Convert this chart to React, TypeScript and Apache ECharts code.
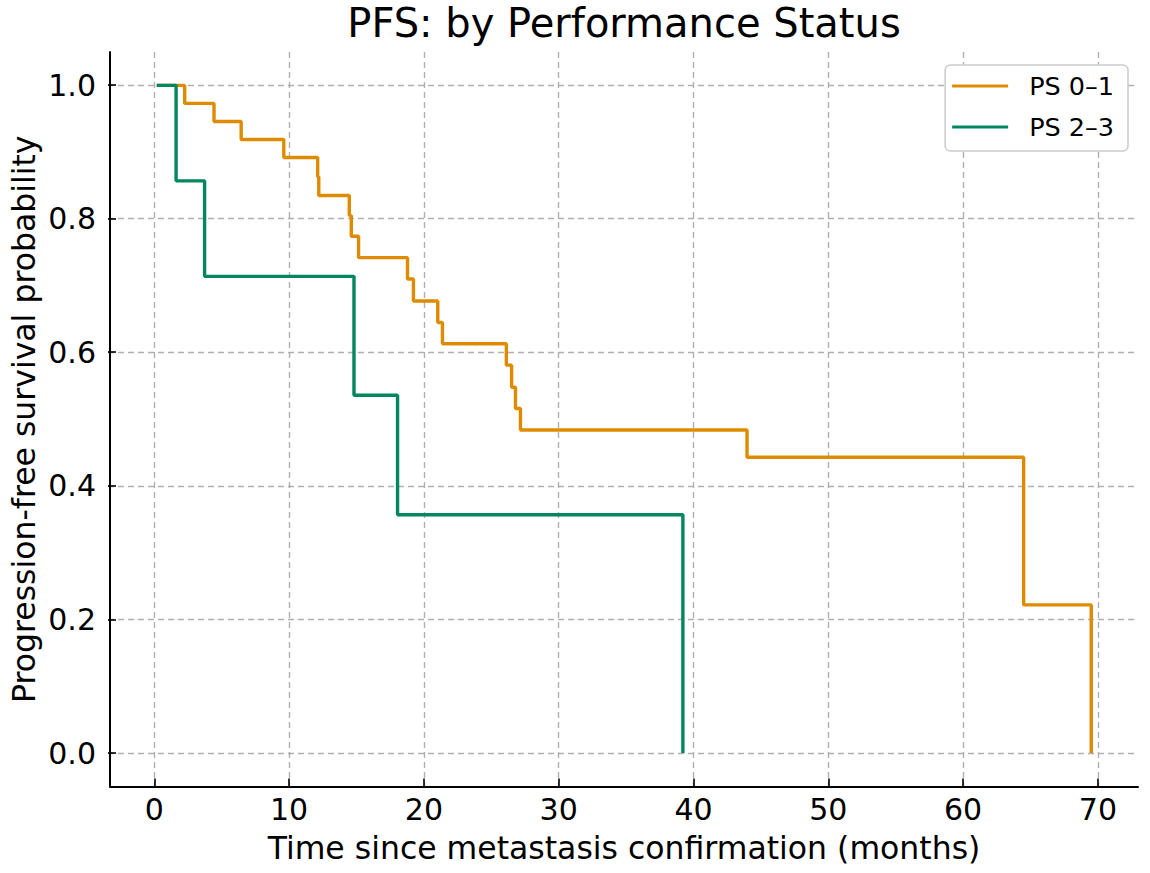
import React, { useEffect, useRef } from "react";
import * as echarts from "echarts";

const titleText = "PFS: by Performance Status";
const xAxisTitle = "Time since metastasis confirmation (months)";
const yAxisTitle = "Progression-free survival probability";

const seriesNames = ["PS 0–1", "PS 2–3"];
const seriesColors = ["#DF8B00", "#00875E"];

// PS 0–1: Kaplan–Meier step points (time in months, survival)
const timesA = [0, 2.08, 4.26, 6.28, 9.45, 11.97, 12.05, 14.32, 14.47, 15.01, 18.65, 19.09, 20.9, 21.25, 26.0, 26.39, 26.68, 27.05, 43.9, 64.47, 69.5];
const survA = [1.0, 0.973, 0.946, 0.919, 0.892, 0.863, 0.835, 0.805, 0.774, 0.742, 0.71, 0.677, 0.645, 0.613, 0.581, 0.548, 0.516, 0.484, 0.443, 0.222, 0.0];

// PS 2–3
const timesB = [0, 1.44, 3.56, 14.67, 17.91, 39.13];
const survB = [1.0, 0.857, 0.714, 0.536, 0.357, 0.0];

const xTickMin = 0;
const xTickMax = 70;
const xTickStep = 10;
const yTickMin = 0;
const yTickMax = 1;
const yTickStep = 0.2;

const FONT = "DejaVu Sans";

export default function App() {
  const ref = useRef<HTMLDivElement>(null);

  useEffect(() => {
    if (!ref.current) return;
    const chart = echarts.init(ref.current, undefined, { renderer: "svg" });

    const toPairs = (t: number[], s: number[]) => t.map((v, i) => [v, s[i]]);
    const gridLine = { show: true, lineStyle: { color: "#b0b0b0", type: [6, 4] as any, width: 1.4 } };

    const option: any = {
      animation: false,
      backgroundColor: "#ffffff",
      title: {
        text: titleText,
        left: 624,
        textAlign: "center",
        top: 0,
        padding: 0,
        textStyle: { fontFamily: FONT, fontSize: 40, lineHeight: 46, fontWeight: "normal", color: "#000" },
      },
      legend: {
        data: seriesNames,
        orient: "vertical",
        right: 22,
        top: 65,
        icon: "rect",
        itemWidth: 56,
        itemHeight: 3,
        itemGap: 11,
        padding: [6, 14, 9, 7],
        borderColor: "#cccccc",
        borderWidth: 1.5,
        borderRadius: 5,
        backgroundColor: "#ffffff",
        textStyle: { fontFamily: FONT, fontSize: 25.5, color: "#000", lineHeight: 30, padding: [0, 0, 0, 16] },
      },
      grid: [
        { left: 108, right: 12, top: 52, bottom: 86.5 },
        { left: 154.3, right: 52.1, top: 52, bottom: 86.5 },
        { left: 108, right: 12, top: 85, bottom: 120 },
      ],
      xAxis: [
        {
          gridIndex: 0,
          type: "value",
          min: -3.475,
          max: 72.975,
          axisLine: { show: true, onZero: false, lineStyle: { color: "#000", width: 2 } },
          axisTick: { show: false },
          axisLabel: { show: false },
          splitLine: { show: false },
          name: xAxisTitle,
          nameLocation: "middle",
          nameGap: 45,
          nameTextStyle: { fontFamily: FONT, fontSize: 31.5, color: "#000" },
        },
        {
          gridIndex: 1,
          type: "value",
          min: xTickMin,
          max: xTickMax,
          interval: xTickStep,
          axisLine: { show: false, onZero: false },
          axisTick: { show: true, inside: true, length: 8, lineStyle: { color: "#000", width: 1.6 } },
          axisLabel: { show: true, fontFamily: FONT, fontSize: 30, color: "#000", margin: 8 },
          splitLine: gridLine,
        },
        { gridIndex: 2, type: "value", min: 0, max: 1, show: false },
      ],
      yAxis: [
        {
          gridIndex: 0,
          type: "value",
          min: -0.05,
          max: 1.05,
          axisLine: { show: true, onZero: false, lineStyle: { color: "#000", width: 2 } },
          axisTick: { show: false },
          axisLabel: { show: false },
          splitLine: { show: false },
          name: yAxisTitle,
          nameLocation: "middle",
          nameGap: 70,
          nameRotate: 90,
          nameTextStyle: { fontFamily: FONT, fontSize: 31.5, color: "#000" },
        },
        { gridIndex: 1, type: "value", min: 0, max: 1, show: false },
        {
          gridIndex: 2,
          type: "value",
          min: yTickMin,
          max: yTickMax,
          interval: yTickStep,
          axisLine: { show: false, onZero: false },
          axisTick: { show: true, inside: true, length: 8, lineStyle: { color: "#000", width: 1.6 } },
          axisLabel: {
            show: true,
            fontFamily: FONT,
            fontSize: 30,
            color: "#000",
            margin: 12,
            formatter: (v: number) => v.toFixed(1),
          },
          splitLine: gridLine,
        },
      ],
      series: [
        {
          name: seriesNames[0],
          type: "line",
          xAxisIndex: 0,
          yAxisIndex: 0,
          step: "end",
          symbol: "none",
          showSymbol: false,
          lineStyle: { color: seriesColors[0], width: 3.4 },
          itemStyle: { color: seriesColors[0] },
          data: toPairs(timesA, survA),
          z: 3,
        },
        {
          name: seriesNames[1],
          type: "line",
          xAxisIndex: 0,
          yAxisIndex: 0,
          step: "end",
          symbol: "none",
          showSymbol: false,
          lineStyle: { color: seriesColors[1], width: 3.4 },
          itemStyle: { color: seriesColors[1] },
          data: toPairs(timesB, survB),
          z: 4,
        },
      ],
    };

    chart.setOption(option);
    return () => chart.dispose();
  }, []);

  return (
    <div
      ref={ref}
      style={{ position: "absolute", left: 0, top: 0, width: 1150, height: 873 }}
    />
  );
}
